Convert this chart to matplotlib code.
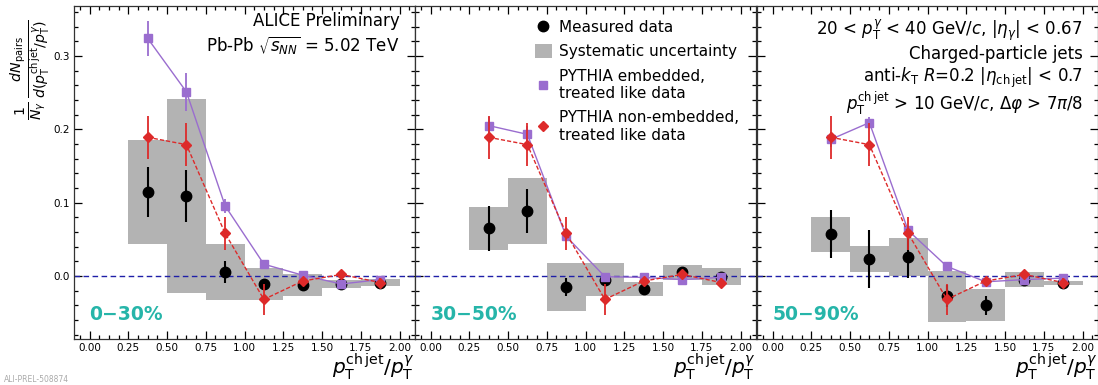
import matplotlib
matplotlib.use("Agg")
import matplotlib.pyplot as plt
import numpy as np
from matplotlib.lines import Line2D
from matplotlib.patches import Patch
from matplotlib.ticker import MultipleLocator, FormatStrFormatter

plt.rcParams['font.family'] = ['DejaVu Sans']
plt.rcParams['mathtext.fontset'] = 'dejavusans'

# bin layout in p_T^{ch jet}/p_T^gamma
bin_lo = [0.25, 0.50, 0.75, 1.00, 1.25, 1.50, 1.75]
bin_hi = [0.50, 0.75, 1.00, 1.25, 1.50, 1.75, 2.00]
xcenters = [0.375, 0.625, 0.875, 1.125, 1.375, 1.625, 1.875]

centralities = ["0\u221230%", "30\u221250%", "50\u221290%"]

# measured data: value, statistical and systematic uncertainty
data_0_30 = [0.114, 0.109, 0.005, -0.011, -0.012, -0.011, -0.009]
stat_0_30 = [0.034, 0.036, 0.015, 0.006, 0.004, 0.003, 0.003]
sys_0_30 = [0.071, 0.132, 0.038, 0.0215, 0.015, 0.006, 0.005]

data_30_50 = [0.065, 0.089, -0.015, -0.005, -0.018, 0.005, -0.001]
stat_30_50 = [0.031, 0.030, 0.012, 0.008, 0.004, 0.004, 0.003]
sys_30_50 = [0.029, 0.045, 0.0325, 0.022, 0.010, 0.010, 0.012]

data_50_90 = [0.057, 0.023, 0.026, -0.028, -0.040, -0.005, -0.010]
stat_50_90 = [0.033, 0.040, 0.029, 0.015, 0.013, 0.004, 0.003]
sys_50_90 = [0.024, 0.018, 0.026, 0.035, 0.0215, 0.010, 0.003]

# PYTHIA embedded into Pb-Pb background, treated like data
emb_0_30 = [0.324, 0.251, 0.0955, 0.016, 0.001, -0.011, -0.005]
emb_err_0_30 = [0.024, 0.026, 0.010, 0.005, 0.003, 0.003, 0.003]
emb_30_50 = [0.205, 0.193, 0.054, -0.001, -0.002, -0.005, -0.002]
emb_err_30_50 = [0.012, 0.012, 0.006, 0.003, 0.003, 0.003, 0.003]
emb_50_90 = [0.186, 0.209, 0.062, 0.013, -0.008, -0.005, -0.003]
emb_err_50_90 = [0.010, 0.008, 0.005, 0.003, 0.003, 0.003, 0.003]

# PYTHIA without embedding, treated like data
nonemb = [0.189, 0.179, 0.058, -0.032, -0.007, 0.002, -0.009]
nonemb_err = [0.029, 0.029, 0.022, 0.021, 0.005, 0.004, 0.006]

panels = [
    (data_0_30, stat_0_30, sys_0_30, emb_0_30, emb_err_0_30),
    (data_30_50, stat_30_50, sys_30_50, emb_30_50, emb_err_30_50),
    (data_50_90, stat_50_90, sys_50_90, emb_50_90, emb_err_50_90),
]

C_EMB = '#9a6dcf'
C_NON = '#dd2a2a'
C_SYS = '#b3b3b3'
C_CENT = '#26b5a9'

fig = plt.figure(figsize=(10.98, 3.85), dpi=100)
lefts = [74 / 1098, 415 / 1098, 757 / 1098]
width = 341 / 1098
bottom = (385 - 339) / 385
height = 333 / 385

axes = []
for i, (val, stat, sysu, emb, emb_err) in enumerate(panels):
    ax = fig.add_axes([lefts[i], bottom, width, height])
    axes.append(ax)
    ax.set_xlim(-0.1, 2.1)
    ax.set_ylim(-0.086, 0.368)

    for lo, hi, v, s in zip(bin_lo, bin_hi, val, sysu):
        ax.bar((lo + hi) / 2, 2 * s, width=hi - lo, bottom=v - s,
               color=C_SYS, edgecolor='none', zorder=1)

    ax.axhline(0.0, color='#1f1fa8', ls=(0, (4, 2.5)), lw=1.0, zorder=2)

    ax.errorbar(xcenters, val, yerr=stat, fmt='o', color='black',
                ms=7.5, elinewidth=1.5, capsize=0, zorder=3)
    ax.errorbar(xcenters, emb, yerr=emb_err, fmt='s-', color=C_EMB,
                ms=5.5, lw=1.0, elinewidth=1.3, capsize=0, zorder=4)
    ax.errorbar(xcenters, nonemb, yerr=nonemb_err, fmt='D', ls=(0, (3, 1.5)),
                color=C_NON, ms=5, lw=1.0, elinewidth=1.3, capsize=0, zorder=5)

    ax.xaxis.set_major_locator(MultipleLocator(0.25))
    ax.xaxis.set_minor_locator(MultipleLocator(0.0625))
    ax.xaxis.set_major_formatter(FormatStrFormatter('%.2f'))
    ax.yaxis.set_major_locator(MultipleLocator(0.1))
    ax.yaxis.set_minor_locator(MultipleLocator(0.02))
    ax.yaxis.set_major_formatter(FormatStrFormatter('%.1f'))
    ax.tick_params(which='both', direction='in', top=True, right=True,
                   labelsize=7.5, width=0.9, pad=3)
    ax.tick_params(which='major', length=6)
    ax.tick_params(which='minor', length=3)
    if i > 0:
        ax.tick_params(labelleft=False)
    for sp in ax.spines.values():
        sp.set_linewidth(0.9)
        sp.set_color('#333333')

    ax.text(0.0, -0.053, centralities[i], color=C_CENT, fontsize=13.5,
            fontweight='bold', ha='left', va='center', zorder=6)
    ax.text(1.0, -0.038, r'$p_{\mathrm{T}}^{\mathrm{ch\,jet}}/p_{\mathrm{T}}^{\gamma}$',
            transform=ax.transAxes, ha='right', va='top', fontsize=14.5)

# collaboration and system labels
axes[0].text(0.955, 0.955, 'ALICE Preliminary', transform=axes[0].transAxes,
             ha='right', va='center', fontsize=12)
axes[0].text(0.955, 0.88, r'Pb-Pb $\sqrt{s_{NN}}$ = 5.02 TeV',
             transform=axes[0].transAxes, ha='right', va='center', fontsize=12)

# legend
handles = [
    Line2D([], [], marker='o', color='black', ls='none', ms=7.5),
    Patch(facecolor=C_SYS, edgecolor='none'),
    Line2D([], [], marker='s', color=C_EMB, ls='none', ms=5.5),
    Line2D([], [], marker='D', color=C_NON, ls='none', ms=5),
]
labels = ['Measured data', 'Systematic uncertainty',
          'PYTHIA embedded,\ntreated like data',
          'PYTHIA non-embedded,\ntreated like data']
axes[1].legend(handles, labels, loc='upper left', bbox_to_anchor=(0.325, 0.985),
               frameon=False, fontsize=11, handlelength=1.1, handleheight=1.0,
               handletextpad=0.5, labelspacing=0.6, borderaxespad=0.2)

# selection criteria
sel_lines = [
    r'20 < $p_{\mathrm{T}}^{\gamma}$ < 40 GeV/$c$, |$\eta_{\gamma}$| < 0.67',
    'Charged-particle jets',
    r'anti-$k_{\mathrm{T}}$ $R$=0.2 |$\eta_{\mathrm{ch\,jet}}$| < 0.7',
    r'$p_{\mathrm{T}}^{\mathrm{ch\,jet}}$ > 10 GeV/$c$, $\Delta\varphi$ > 7$\pi$/8',
]
sel_y = [0.925, 0.855, 0.785, 0.705]
for s, yy in zip(sel_lines, sel_y):
    axes[2].text(0.955, yy, s, transform=axes[2].transAxes, ha='right',
                 va='center', fontsize=12)

fig.text(0.027, (385 - 70) / 385,
         r'$\frac{1}{N_{\gamma}}\,\frac{dN_{\mathrm{pairs}}}{d(p_{\mathrm{T}}^{\mathrm{ch\,jet}}/p_{\mathrm{T}}^{\gamma})}$',
         rotation=90, ha='center', va='center', fontsize=14.5)

fig.text(0.004, 0.002, 'ALI-PREL-508874', color='#aaaaaa', fontsize=5.5,
         ha='left', va='bottom')

fig.savefig('out.png', dpi=100)
